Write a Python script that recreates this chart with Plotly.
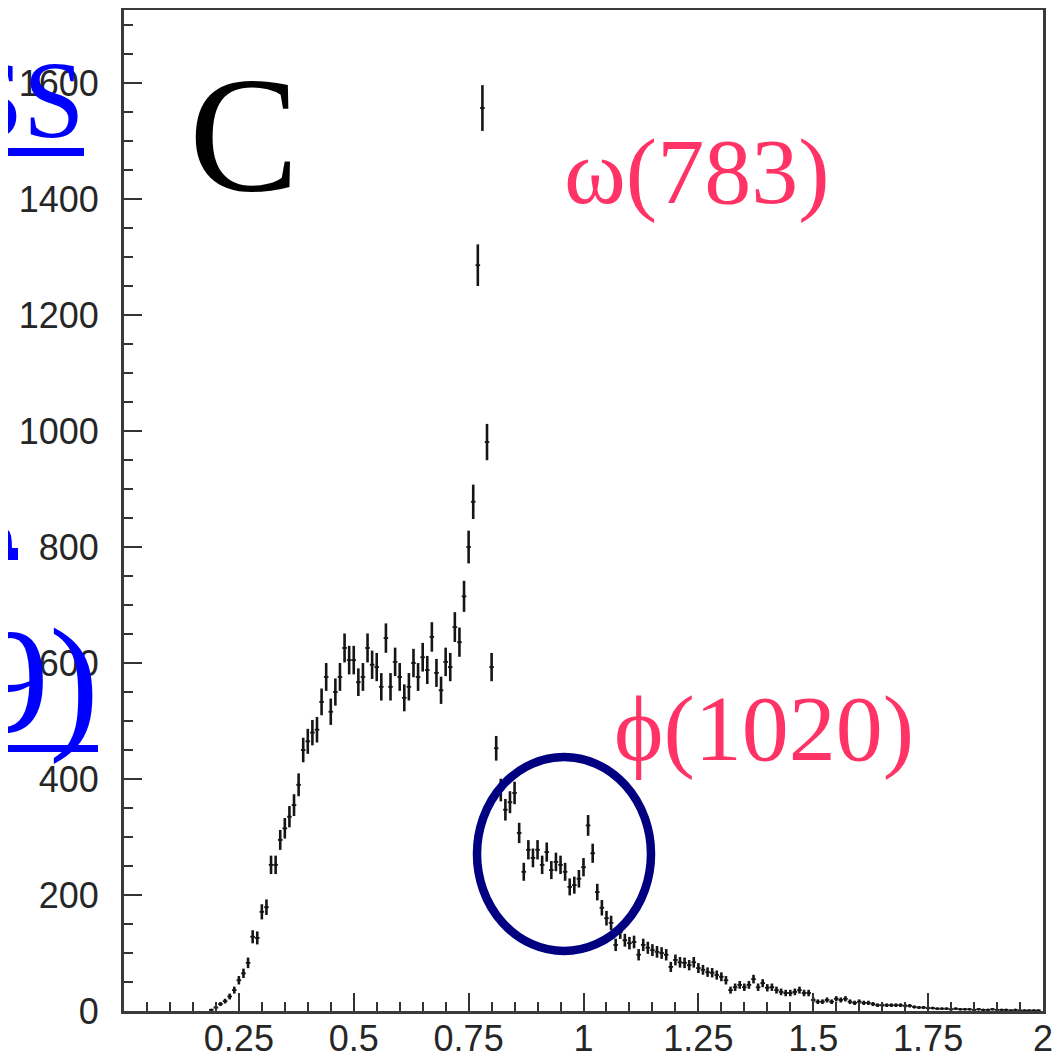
import numpy as np
import plotly.graph_objects as go

# ---- data: invariant-mass histogram (bin width 0.01 GeV), counts
bin_start = 0.19
bin_width = 0.01
counts = [
    2, 6, 12, 17, 25, 36, 53, 65, 83, 128,          # 0.19-0.28
    126, 171, 179, 252, 252, 295, 315, 335, 355, 390,  # 0.29-0.38
    450, 465, 480, 485, 533, 576, 516, 550, 576, 626,  # 0.39-0.48
    605, 605, 567, 576, 626, 597, 593, 559, 643, 559,  # 0.49-0.58
    602, 576, 540, 559, 600, 576, 610, 588, 645, 583,  # 0.59-0.68
    553, 602, 593, 662, 636, 715, 800, 878, 1286, 1557,  # 0.69-0.78
    981, 593, 453, 381, 347, 360, 376, 307, 240, 278,  # 0.79-0.88
    264, 278, 252, 274, 243, 257, 252, 240, 214, 217,  # 0.89-0.98
    228, 248, 320, 272, 205, 178, 160, 152, 114, 136,  # 0.99-1.08
    122, 117, 119, 97, 114, 109, 105, 102, 100, 97,    # 1.09-1.18
    76, 88, 84, 83, 79, 84, 74, 71, 67, 66,            # 1.19-1.28
    62, 59, 53, 36, 41, 45, 41, 45, 55, 41,            # 1.29-1.38
    48, 40, 41, 36, 33, 31, 31, 33, 36, 31,            # 1.39-1.48
    31, 19, 16, 16, 19, 16, 21, 19, 21, 16,            # 1.49-1.58
    14, 16, 14, 14, 12, 10, 10, 10, 10, 10,            # 1.59-1.68
    10, 9, 9, 7, 6, 6, 5, 5, 4, 4,                     # 1.69-1.78
    4, 3, 4, 3, 3, 3, 2, 3, 2, 2,                      # 1.79-1.88
    3, 2, 2, 2, 1, 2, 1, 1, 1, 1, 1,                   # 1.89-1.99
]
x_tickvals = [0.25, 0.5, 0.75, 1.0, 1.25, 1.5, 1.75, 2.0]
x_ticktext = ["0.25", "0.5", "0.75", "1", "1.25", "1.5", "1.75", "2"]
y_tickvals = [0, 200, 400, 600, 800, 1000, 1200, 1400, 1600]
y_ticktext = ["0", "200", "400", "600", "800", "1000", "1200", "1400", "1600"]

counts = np.array(counts, dtype=float)
mass = bin_start + bin_width * np.arange(len(counts))
errors = np.sqrt(counts)

# page body has an 8px margin: shrink the figure so it fits the 1060x1055 window
OFF = 8
WIN_W, WIN_H = 1060, 1055
W, H = WIN_W - OFF, WIN_H - OFF
# plot area in window pixels (reference picture coordinates)
L, R, T, B = 124, 1043, 10, 1011


def px(xp):
    return (xp - L) / (R - L)


def py(yp):
    return (B - yp) / (B - T)


fig = go.Figure()
fig.add_trace(go.Scatter(
    x=mass, y=counts, mode="markers",
    marker=dict(size=2.5, color="#151515"),
    error_y=dict(type="data", array=errors, visible=True, width=0,
                 thickness=2.6, color="#151515"),
    error_x=dict(type="constant", value=bin_width / 2, visible=True, width=0,
                 thickness=1.8, color="#151515"),
    showlegend=False, hoverinfo="x+y",
))

axis_common = dict(
    showline=True, linecolor="#3a3a3a", linewidth=2.8, mirror=True,
    showgrid=False, zeroline=False, automargin=False,
    ticks="inside", ticklen=18, tickwidth=2, tickcolor="#333333",
    tickfont=dict(family="Liberation Sans, Arial, sans-serif", size=36, color="#262626"),
)

fig.update_xaxes(
    range=[0, 2], tickvals=x_tickvals, ticktext=x_ticktext,
    minor=dict(dtick=0.05, tick0=0, ticks="inside", ticklen=9, tickwidth=2, tickcolor="#333333"),
    ticklabelstandoff=-6,
    **axis_common,
)
fig.update_yaxes(
    range=[0, 1726], tickvals=y_tickvals, ticktext=y_ticktext,
    minor=dict(dtick=50, tick0=0, ticks="inside", ticklen=9, tickwidth=2, tickcolor="#333333"),
    ticklabelstandoff=15,
    **axis_common,
)

serif = "Liberation Serif, Times New Roman, DejaVu Serif, serif"
annotations = [
    dict(text="C", x=px(244), y=py(135), font=dict(family=serif, size=165, color="black"),
         xanchor="center", yanchor="middle"),
    dict(text="ω(783)", x=px(696), y=py(171), font=dict(family=serif, size=94, color="#ff3366"),
         xanchor="center", yanchor="middle"),
    dict(text="ϕ(1020)", x=px(764), y=py(728), font=dict(family=serif, size=94, color="#ff3366"),
         xanchor="center", yanchor="middle"),
    dict(text="SS", x=px(86), y=py(100), font=dict(family=serif, size=110, color="#0000ff"),
         xanchor="right", yanchor="middle"),
    dict(text="9)", x=px(101), y=py(681), font=dict(family=serif, size=150, color="#0000ff"),
         xanchor="right", yanchor="middle"),
]
for a in annotations:
    a.update(xref="paper", yref="paper", showarrow=False)

shapes = [
    # circle around the phi region
    dict(type="circle", xref="paper", yref="paper",
         x0=px(477), x1=px(651), y0=py(951), y1=py(757),
         line=dict(color="#000080", width=8.5)),
    # underlines of the cut-off blue link text
    dict(type="rect", xref="paper", yref="paper",
         x0=px(0), x1=px(84), y0=py(156), y1=py(148),
         fillcolor="#0000ff", line=dict(width=0)),
    dict(type="rect", xref="paper", yref="paper",
         x0=px(0), x1=px(98), y0=py(752), y1=py(745),
         fillcolor="#0000ff", line=dict(width=0)),
    # small blue glyph fragment
    dict(type="path", xref="paper", yref="paper",
         path=(f"M {px(4)},{py(530)} Q {px(12)},{py(526)} {px(12)},{py(548)} "
               f"L {px(18)},{py(548)} L {px(18)},{py(560)} L {px(4)},{py(560)} Z"),
         fillcolor="#0000ff", line=dict(width=0)),
]

fig.update_layout(
    width=W, height=H,
    margin=dict(l=L - OFF, r=W - (R - OFF), t=T - OFF, b=H - (B - OFF),
                pad=0, autoexpand=False),
    plot_bgcolor="white", paper_bgcolor="white",
    annotations=annotations, shapes=shapes,
    showlegend=False,
)

fig.write_html("out.html")
